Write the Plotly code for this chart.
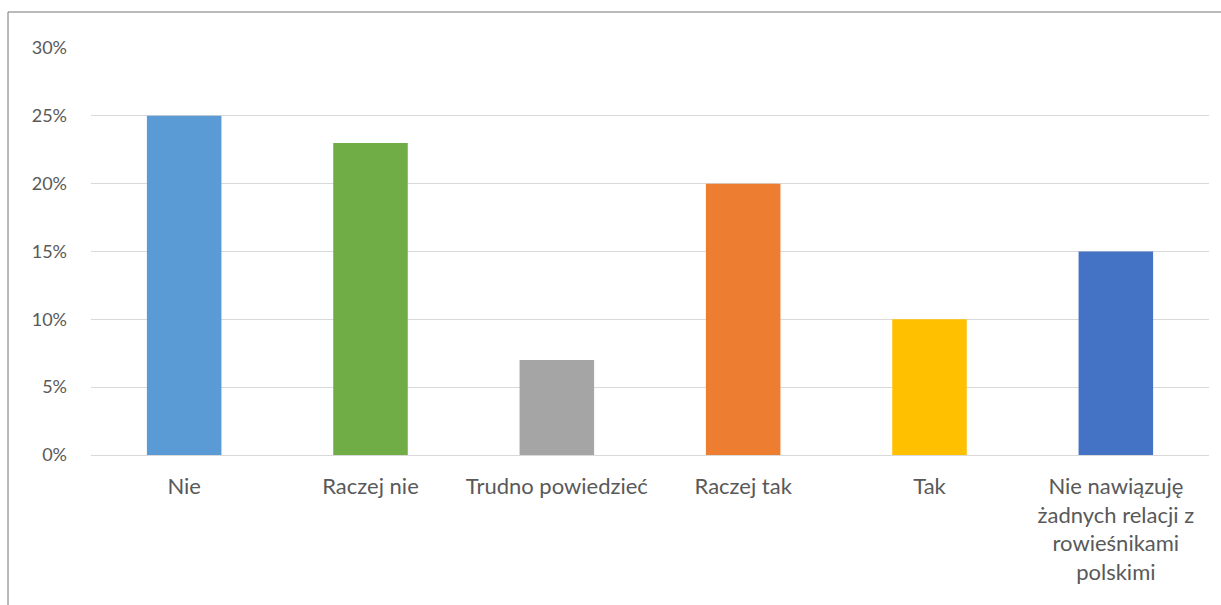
import plotly.graph_objects as go

categories = ["Nie", "Raczej nie", "Trudno powiedzieć", "Raczej tak", "Tak",
              "Nie nawiązuję<br>żadnych relacji z<br>rowieśnikami<br>polskimi"]
values = [0.25, 0.23, 0.07, 0.20, 0.10, 0.15]
colors = ["#5B9BD5", "#70AD47", "#A5A5A5", "#ED7D31", "#FFC000", "#4472C4"]
y_ticks = [0, 0.05, 0.10, 0.15, 0.20, 0.25, 0.30]
y_tick_labels = ["0%", "5%", "10%", "15%", "20%", "25%", "30%"]

fig = go.Figure(go.Bar(x=categories, y=values, marker=dict(color=colors, line=dict(width=0)),
                       hoverinfo="x+y"))

W, H = 1221, 605
L, R, T, B = 91, 12, 48, 150
pw, ph = W - L - R, H - T - B

fig.update_layout(
    width=W, height=H,
    margin=dict(l=L, r=R, t=T, b=B, pad=0),
    paper_bgcolor="white", plot_bgcolor="white",
    bargap=0.6,
    showlegend=False,
    font=dict(family="Lato, 'Open Sans', sans-serif", size=22, color="#595959"),
    xaxis=dict(showgrid=False, showline=False, zeroline=False, ticks="",
               tickfont=dict(size=22, color="#595959"), ticklabelstandoff=16),
    yaxis=dict(range=[0, 0.30], tickvals=y_ticks, ticktext=y_tick_labels,
               showgrid=True, gridcolor="#D9D9D9", gridwidth=1,
               zeroline=True, zerolinecolor="#D9D9D9", zerolinewidth=1,
               showline=False, ticks="", ticklabelstandoff=23,
               tickfont=dict(size=18, color="#595959")),
    shapes=[dict(type="rect", xref="paper", yref="paper",
                 x0=(8 - L) / pw, x1=1.2, y0=-0.6, y1=(H - B - 12) / ph,
                 line=dict(color="#767676", width=1), layer="below")],
)

fig.write_html("out.html", config={"displayModeBar": False},
               post_script="document.body.style.margin='0';document.body.style.overflow='hidden';")
